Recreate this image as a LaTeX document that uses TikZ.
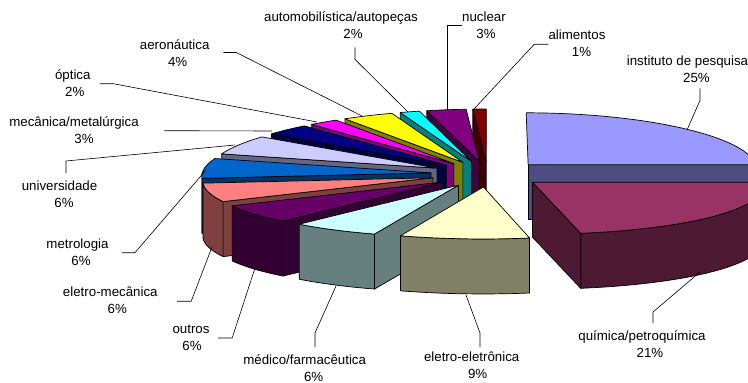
\documentclass[tikz,border=0pt]{standalone}
\usepackage{fontspec}
\setmainfont{Liberation Sans}
\usetikzlibrary{calc}
\definecolor{cInstT}{HTML}{9999FF}\definecolor{cInstS}{HTML}{4D4D80}
\definecolor{cQuiT}{HTML}{993366}\definecolor{cQuiS}{HTML}{4D1933}
\definecolor{cEET}{HTML}{FFFFCC}\definecolor{cEES}{HTML}{808066}
\definecolor{cMedT}{HTML}{CCFFFF}\definecolor{cMedS}{HTML}{668080}
\definecolor{cOutT}{HTML}{660066}\definecolor{cOutS}{HTML}{330033}
\definecolor{cEMT}{HTML}{FF8080}\definecolor{cEMS}{HTML}{804040}
\definecolor{cMetT}{HTML}{0066CC}\definecolor{cMetS}{HTML}{003366}
\definecolor{cUniT}{HTML}{CCCCFF}\definecolor{cUniS}{HTML}{666680}
\definecolor{cMecT}{HTML}{000080}\definecolor{cMecS}{HTML}{000040}
\definecolor{cOptT}{HTML}{FF00FF}\definecolor{cOptS}{HTML}{800080}
\definecolor{cAerT}{HTML}{FFFF00}\definecolor{cAerS}{HTML}{808000}
\definecolor{cAutT}{HTML}{00FFFF}\definecolor{cAutS}{HTML}{008080}
\definecolor{cNucT}{HTML}{800080}\definecolor{cNucS}{HTML}{400040}
\definecolor{cAliT}{HTML}{800000}\definecolor{cAliS}{HTML}{400000}
\def\pcx{488}\def\pcy{174}\def\pry{52}\def\psa{229}\def\psb{11}\def\pex{0.25}\def\pH{55}
\newcommand{\lst}{\rule[-3pt]{0pt}{14pt}}
\newcommand{\pieslice}[4]{%
  \pgfmathsetmacro{\slm}{(#1+#2)/2}%
  \pgfmathsetmacro{\slu}{\pex*sin(\slm)}%
  \pgfmathsetmacro{\slw}{\pex*cos(\slm)}%
  \pgfmathsetmacro{\slax}{\pcx+\slu*(\psa-\psb*\slw)}%
  \pgfmathsetmacro{\slay}{\pcy-\pry*\slw}%
  \pgfmathsetmacro{\slayb}{\slay+\pH}%
  \pgfmathsetmacro{\slta}{max(#1,90)}%
  \pgfmathsetmacro{\sltb}{min(#2,270)}%
  \ifdim\slta pt<\sltb pt
    \filldraw[face, fill=#4] plot[domain=\slta:\sltb, samples=30]
      ({\pcx+(sin(\x)+\slu)*(\psa-\psb*(cos(\x)+\slw))},{\pcy-\pry*(cos(\x)+\slw)})
      -- plot[domain=\sltb:\slta, samples=30]
      ({\pcx+(sin(\x)+\slu)*(\psa-\psb*(cos(\x)+\slw))},{\pcy+\pH-\pry*(cos(\x)+\slw)}) -- cycle;
  \fi
  \ifdim #1pt>180pt
    \pgfmathsetmacro{\slpx}{\pcx+(sin(#1)+\slu)*(\psa-\psb*(cos(#1)+\slw))}%
    \pgfmathsetmacro{\slpy}{\pcy-\pry*(cos(#1)+\slw)}%
    \pgfmathsetmacro{\slpyb}{\slpy+\pH}%
    \filldraw[face, fill=#4] (\slax,\slay) -- (\slpx,\slpy) -- (\slpx,\slpyb) -- (\slax,\slayb) -- cycle;
  \fi
  \ifdim #2pt<180pt
    \pgfmathsetmacro{\slpx}{\pcx+(sin(#2)+\slu)*(\psa-\psb*(cos(#2)+\slw))}%
    \pgfmathsetmacro{\slpy}{\pcy-\pry*(cos(#2)+\slw)}%
    \pgfmathsetmacro{\slpyb}{\slpy+\pH}%
    \filldraw[face, fill=#4] (\slax,\slay) -- (\slpx,\slpy) -- (\slpx,\slpyb) -- (\slax,\slayb) -- cycle;
  \fi
  \filldraw[face, fill=#3] (\slax,\slay) -- plot[domain=#1:#2, samples=40]
      ({\pcx+(sin(\x)+\slu)*(\psa-\psb*(cos(\x)+\slw))},{\pcy-\pry*(cos(\x)+\slw)}) -- cycle;
}
\begin{document}
\begin{tikzpicture}[x=1pt,y=-1pt,
  face/.style={draw=black, line width=0.7pt, line join=round},
  lbl/.style={font=\fontsize{13.3}{17}\selectfont, align=center, inner sep=0pt, anchor=north},
  leader/.style={draw=black, line width=0.6pt}]
\useasboundingbox (0,0) rectangle (748,383);
\begin{scope}
\clip (0,0) rectangle (748,383);
\pieslice{356.4}{360}{cAliT}{cAliS}
\pieslice{345.8}{356.4}{cNucT}{cNucS}
\pieslice{340.5}{345.8}{cAutT}{cAutS}
\pieslice{326.8}{340.5}{cAerT}{cAerS}
\pieslice{319}{326.8}{cOptT}{cOptS}
\pieslice{0}{90}{cInstT}{cInstS}
\pieslice{307}{319}{cMecT}{cMecS}
\pieslice{286}{307}{cUniT}{cUniS}
\pieslice{264}{286}{cMetT}{cMetS}
\pieslice{242.67}{264}{cEMT}{cEMS}
\pieslice{221.33}{242.67}{cOutT}{cOutS}
\pieslice{90}{169}{cQuiT}{cQuiS}
\pieslice{200}{221.33}{cMedT}{cMedS}
\pieslice{169}{200}{cEET}{cEES}
\end{scope}

\node[lbl] (lblAuto) at (341,10.5) {\lst automobilística/autopeças\\\hspace*{24pt}2\%\lst};
\node[lbl] (lblNuc) at (484,10) {\lst nuclear\\\hspace*{4pt}3\%\lst};
\node[lbl] (lblAli) at (577,28.5) {\lst alimentos\\\hspace*{9pt}1\%\lst};
\node[lbl] (lblInst) at (687.5,54) {\lst instituto de pesquisa\\\hspace*{18pt}25\%\lst};
\node[lbl] (lblAero) at (174.7,38.5) {\lst aeronáutica\\\hspace*{6pt}4\%\lst};
\node[lbl] (lblOpt) at (72.8,68) {\lst óptica\\\hspace*{4pt}2\%\lst};
\node[lbl] (lblMec) at (74,115) {\lst mecânica/metalúrgica\\\hspace*{20pt}3\%\lst};
\node[lbl] (lblUni) at (59.5,179) {\lst universidade\\\hspace*{9pt}6\%\lst};
\node[lbl] (lblMet) at (77.5,237) {\lst metrologia\\\hspace*{7pt}6\%\lst};
\node[lbl] (lblEM) at (110.3,285.5) {\lst eletro-mecânica\\\hspace*{14pt}6\%\lst};
\node[lbl] (lblOut) at (191,322.3) {\lst outros\\\hspace*{2pt}6\%\lst};
\node[lbl] (lblMed) at (304.7,353) {\lst médico/farmacêutica\\\hspace*{18pt}6\%\lst};
\node[lbl] (lblEE) at (471.7,350) {\lst eletro-eletrônica\\\hspace*{12pt}9\%\lst};
\node[lbl] (lblQui) at (642,329) {\lst química/petroquímica\\\hspace*{16pt}21\%\lst};

\coordinate (tipAuto) at (408,112);
\coordinate (tipNuc) at (447,110);
\coordinate (tipAli) at (474,109);
\coordinate (tipInst) at (687,130);
\coordinate (tipQui) at (700,272);
\coordinate (tipEE) at (466,295);
\coordinate (tipMed) at (336,286);
\coordinate (tipOut) at (255,268);
\coordinate (tipEM) at (212,247);
\coordinate (tipMet) at (206,170);
\coordinate (tipUni) at (235,145);
\coordinate (tipMec) at (272,131);
\coordinate (tipOpt) at (317,122);
\coordinate (tipAero) at (362,116);

\draw[leader] ($(lblAuto.south)+(14,5.5)$) -- ++(0,12) -- (tipAuto);
\draw[leader] (lblNuc.west) -- (lblNuc.west -| tipNuc) -- (tipNuc);
\draw[leader] (lblAli.west) -- ++(-14,0) -- (tipAli);
\draw[leader] ($(lblInst.south)+(12.5,3)$) -- ++(0,12) -- (tipInst);
\draw[leader] ($(lblQui.north)+(11,-6)$) -- ++(0,-11) -- (tipQui);
\draw[leader] ($(lblEE.north)+(8.3,-3)$) -- ++(0,-14) -- (tipEE);
\draw[leader] ($(lblMed.north)+(10.3,-6)$) -- ++(0,-14) -- (tipMed);
\draw[leader] ($(lblOut.east)+(8.5,0)$) -- ++(14,0) -- (tipOut);
\draw[leader] ($(lblEM.east)+(19.4,0)$) -- ++(14,0) -- (tipEM);
\draw[leader] ($(lblMet.east)+(13.2,0)$) -- ++(13,0) -- (tipMet);
\draw[leader] ($(lblUni.north)+(6.5,-6)$) -- ++(0,-12) -- (tipUni);
\draw[leader] ($(lblMec.east)+(25.5,0)$) -- (tipMec);
\draw[leader] ($(lblOpt.east)+(9.5,0)$) -- ++(13,0) -- (tipOpt);
\draw[leader] ($(lblAero.east)+(13.6,-1.7)$) -- ++(13,0) -- (tipAero);
\end{tikzpicture}
\end{document}
